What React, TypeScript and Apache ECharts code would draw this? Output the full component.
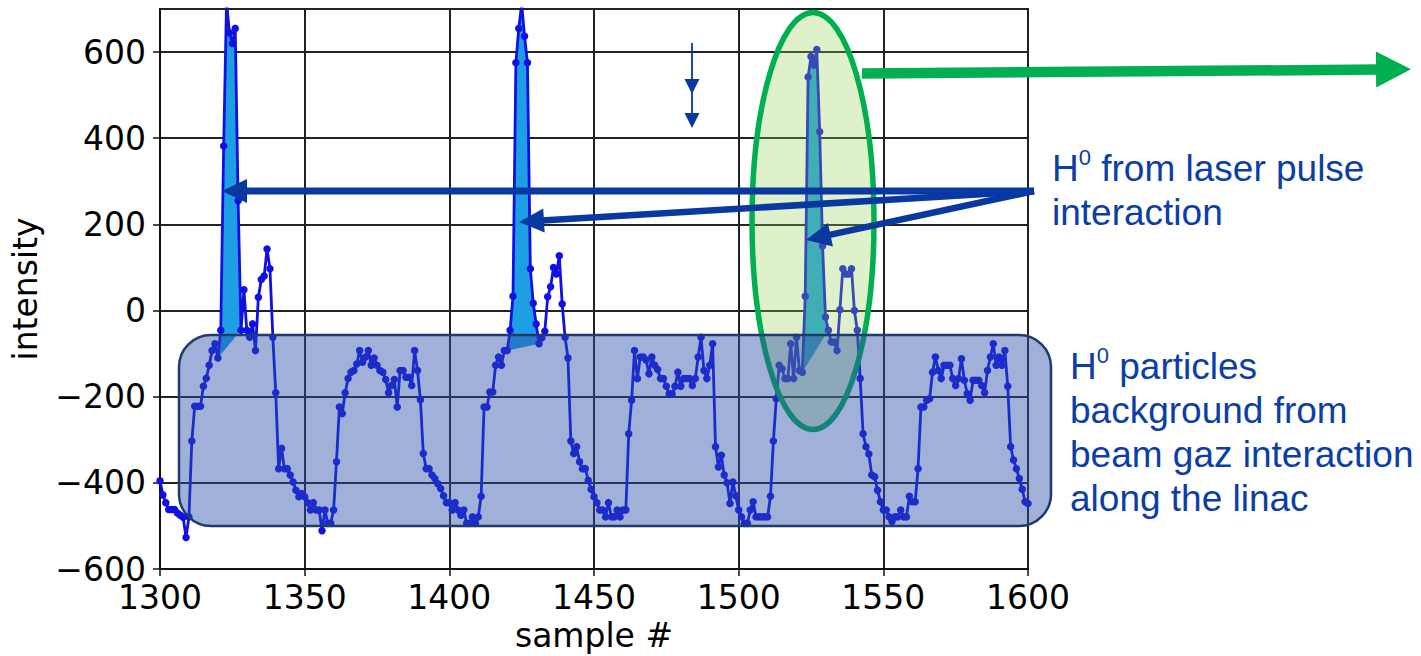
import React, { useEffect, useRef } from 'react';
import * as echarts from 'echarts';

// ---------------- data ----------------
const FIRST_SAMPLE = 1300;

// intensity per sample, samples 1300 .. 1600
const intensity: number[] = [
  -395, -428, -446, -462, -462, -462, -470, -475, -480, -527,
  -479, -303, -222, -222, -222, -176, -157, -127, -93, -77,
  -110, -46, 382, 715, 645, 620, 655, 255, -46, 48,
  -46, -62, -31, -93, 31, 72, 80, 143, 97, -62,
  -191, -367, -320, -367, -367, -382, -398, -417, -432, -425,
  -432, -446, -463, -446, -463, -463, -511, -463, -494, -494,
  -463, -351, -224, -239, -191, -158, -143, -139, -124, -93,
  -120, -108, -93, -127, -110, -127, -139, -143, -160, -191,
  -174, -160, -224, -139, -139, -155, -155, -174, -93, -139,
  -207, -332, -367, -367, -382, -390, -402, -413, -430, -446,
  -446, -463, -446, -463, -475, -463, -494, -494, -479, -494,
  -479, -431, -224, -224, -189, -189, -127, -108, -127, -93,
  -93, -46, 33, 575, 655, 712, 637, 575, 97, 17,
  -31, -77, -63, -48, 32, 55, 100, 85, 127, 15,
  -62, -110, -303, -332, -316, -351, -367, -367, -394, -415,
  -432, -446, -463, -463, -479, -446, -479, -479, -463, -479,
  -463, -463, -286, -208, -93, -158, -108, -108, -115, -147,
  -108, -127, -137, -158, -158, -176, -193, -193, -176, -143,
  -176, -158, -158, -158, -174, -158, -108, -62, -139, -158,
  -127, -77, -316, -363, -336, -382, -400, -448, -398, -430,
  -463, -479, -494, -494, -463, -444, -479, -479, -479, -479,
  -479, -431, -303, -205, -127, -135, -158, -158, -77, -158,
  -62, -139, -143, 33, 542, 590, 570, 606, 415, 150,
  -15, -46, -73, -73, -93, 2, 97, 85, 85, 97,
  0, -46, -158, -286, -316, -333, -382, -386, -417, -444,
  -463, -463, -479, -490, -479, -479, -463, -479, -479, -431,
  -444, -444, -367, -224, -224, -208, -205, -143, -108, -139,
  -158, -127, -127, -127, -158, -174, -158, -112, -162, -193,
  -208, -162, -162, -162, -174, -191, -139, -108, -77, -127,
  -108, -127, -93, -176, -316, -347, -367, -390, -415, -444,
  -448,
];

// laser-pulse peaks (first sample, last sample) that are filled
const peakRanges: [number, number][] = [
  [1320, 1328],
  [1420, 1431],
  [1522, 1531],
];

const X_MIN = 1300;
const X_MAX = 1600;
const X_STEP = 50;
const Y_MIN = -600;
const Y_MAX = 700;
const Y_STEP = 200;

const X_NAME = 'sample #';
const Y_NAME = 'intensity';
const LASER_TEXT = ['H', '0', ' from laser pulse', 'interaction'];
const BG_TEXT = ['H', '0', ' particles', 'background from', 'beam gaz interaction', 'along the linac'];

// ---------------- styles ----------------
const LINE = '#1010e6';
const FILL = '#1f9fe3';
const ARROW_BLUE = '#0838a0';
const TEXT_BLUE = '#0b3ea6';
const GREEN = '#00b050';
const AX_FONT = 'DejaVu Sans';
const NOTE_FONT = 'Liberation Sans, Arial, sans-serif';

function arrow(
  tail: number[], tip: number[], shaftW: number, headLen: number, headHalf: number, color: string, z: number,
) {
  const dx = tip[0] - tail[0];
  const dy = tip[1] - tail[1];
  const L = Math.hypot(dx, dy);
  const ux = dx / L;
  const uy = dy / L;
  const bx = tip[0] - ux * headLen;
  const by = tip[1] - uy * headLen;
  const px = -uy;
  const py = ux;
  return [
    {
      type: 'line', z, silent: true,
      shape: { x1: tail[0], y1: tail[1], x2: bx + ux * 2, y2: by + uy * 2 },
      style: { stroke: color, lineWidth: shaftW, lineCap: 'butt' },
    },
    {
      type: 'polygon', z, silent: true,
      shape: { points: [[tip[0], tip[1]], [bx + px * headHalf, by + py * headHalf], [bx - px * headHalf, by - py * headHalf]] },
      style: { fill: color },
    },
  ];
}

export default function App() {
  const ref = useRef<HTMLDivElement>(null);

  useEffect(() => {
    if (!ref.current) return;
    const chart = echarts.init(ref.current, undefined, { renderer: 'svg' });

    const lineData = intensity.map((v, i) => [FIRST_SAMPLE + i, v]);
    const fmt = (v: number) => (v < 0 ? '\u2212' + Math.abs(v) : String(v));

    const noteRich = {
      n: { fontSize: 37, lineHeight: 44, fontFamily: NOTE_FONT, fill: TEXT_BLUE, color: TEXT_BLUE },
      s: { fontSize: 22, lineHeight: 38, verticalAlign: 'top', fontFamily: NOTE_FONT, fill: TEXT_BLUE, color: TEXT_BLUE },
    };

    const laserStr = `{n|${LASER_TEXT[0]}}{s|${LASER_TEXT[1]}}{n|${LASER_TEXT[2]}}\n{n|${LASER_TEXT[3]}}`;
    const bgStr = `{n|${BG_TEXT[0]}}{s|${BG_TEXT[1]}}{n|${BG_TEXT[2]}}\n{n|${BG_TEXT[3]}}\n{n|${BG_TEXT[4]}}\n{n|${BG_TEXT[5]}}`;

    const Z = 100;
    const graphicEls: any[] = [
      {
        type: 'ellipse', z: Z, silent: true,
        shape: { cx: 813, cy: 221, rx: 61, ry: 208.5 },
        style: { fill: 'rgba(146,208,80,0.3)', stroke: GREEN, lineWidth: 5.5 },
      },
      {
        type: 'rect', z: Z + 1, silent: true,
        shape: { x: 179, y: 335, width: 872, height: 191, r: 32 },
        style: { fill: 'rgba(44,79,168,0.45)', stroke: '#1f3a6e', lineWidth: 2.5 },
      },
      ...arrow([862, 73.5], [1411, 69.3], 10.5, 35, 18, GREEN, Z + 2),
      ...arrow([1034, 191], [222, 191], 7, 25, 12, ARROW_BLUE, Z + 2),
      ...arrow([1034, 191], [519, 222], 6.5, 25, 12, ARROW_BLUE, Z + 2),
      ...arrow([1034, 191], [806, 240], 6.5, 25, 12, ARROW_BLUE, Z + 2),
      {
        type: 'line', z: Z + 2, silent: true,
        shape: { x1: 692, y1: 43, x2: 692, y2: 115 },
        style: { stroke: ARROW_BLUE, lineWidth: 1.8 },
      },
      {
        type: 'polygon', z: Z + 2, silent: true,
        shape: { points: [[684.5, 79], [699.5, 79], [692, 94]] },
        style: { fill: ARROW_BLUE },
      },
      {
        type: 'polygon', z: Z + 2, silent: true,
        shape: { points: [[684.5, 113], [699.5, 113], [692, 128]] },
        style: { fill: ARROW_BLUE },
      },
      {
        type: 'text', z: Z + 3, silent: true, x: 1052, y: 146,
        style: { text: laserStr, rich: noteRich, align: 'left', verticalAlign: 'top', fontSize: 37, fontFamily: NOTE_FONT, fill: TEXT_BLUE },
      },
      {
        type: 'text', z: Z + 3, silent: true, x: 1070, y: 344,
        style: { text: bgStr, rich: noteRich, align: 'left', verticalAlign: 'top', fontSize: 37, fontFamily: NOTE_FONT, fill: TEXT_BLUE },
      },
    ];

    const axisCommon = {
      axisLine: { show: true, onZero: false, lineStyle: { color: '#111', width: 2 } },
      axisTick: { show: true, length: 7, lineStyle: { color: '#111', width: 1.5 } },
      splitLine: { show: true, lineStyle: { color: '#222', width: 2 } },
      nameTextStyle: { color: '#000', fontSize: 33, fontFamily: AX_FONT },
    };

    chart.setOption({
      animation: false,
      backgroundColor: '#ffffff',
      grid: {
        left: 160, top: 9, width: 868, height: 560,
        show: true, borderColor: '#1a1a1a', borderWidth: 2,
        containLabel: false, outerBoundsMode: 'none',
      },
      xAxis: {
        type: 'value', min: X_MIN, max: X_MAX, interval: X_STEP,
        ...axisCommon,
        axisLabel: { color: '#000', fontSize: 33, fontFamily: AX_FONT, margin: 12, formatter: (v: number) => String(v) },
        name: X_NAME, nameLocation: 'middle', nameGap: 44,
      },
      yAxis: {
        type: 'value', min: Y_MIN, max: Y_MAX, interval: Y_STEP,
        ...axisCommon,
        axisLabel: { color: '#000', fontSize: 33, lineHeight: 22, fontFamily: AX_FONT, margin: 14, formatter: fmt, showMaxLabel: false },
        name: Y_NAME, nameLocation: 'middle', nameGap: 118,
      },
      series: [
        {
          type: 'custom',
          z: 2,
          clip: true,
          silent: true,
          data: peakRanges.map((r, i) => [r[0], r[1], i]),
          encode: { x: [0, 1], y: 2 },
          renderItem: (params: any, api: any) => {
            const [s, e] = peakRanges[params.dataIndex];
            const pts: number[][] = [];
            for (let x = s; x <= e; x++) pts.push(api.coord([x, intensity[x - FIRST_SAMPLE]]));
            return { type: 'polygon', shape: { points: pts }, style: { fill: FILL } };
          },
        },
        {
          type: 'line',
          z: 3,
          clip: true,
          silent: true,
          data: lineData,
          symbol: 'circle',
          symbolSize: 7.5,
          showAllSymbol: true,
          lineStyle: { color: LINE, width: 2.8 },
          itemStyle: { color: LINE },
        },
      ],
      graphic: { elements: graphicEls },
    });

    return () => chart.dispose();
  }, []);

  return (
    <div
      ref={ref}
      style={{ position: 'fixed', left: 0, top: 0, width: 1421, height: 656, background: '#fff' }}
    />
  );
}
